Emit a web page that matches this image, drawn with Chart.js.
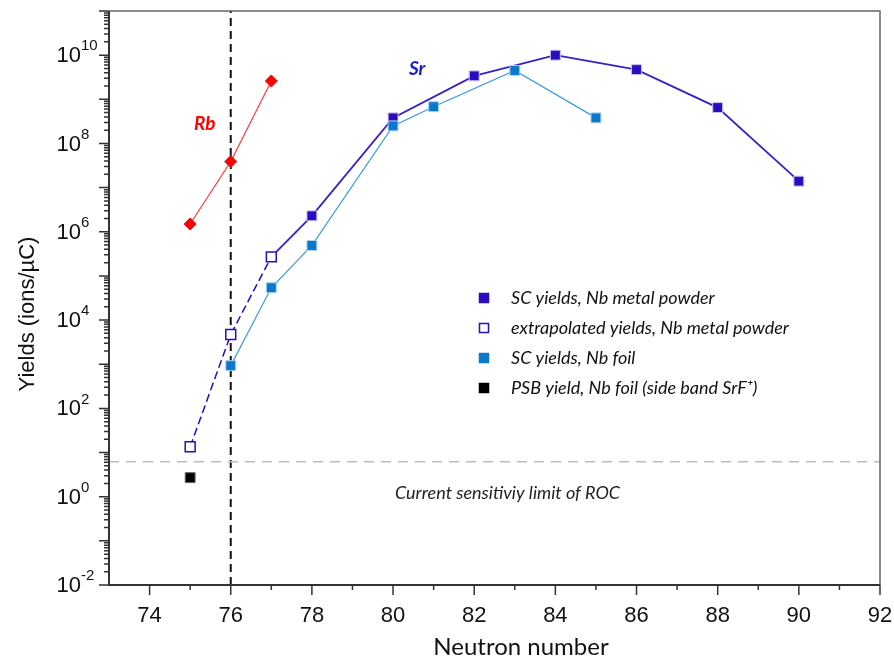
<!DOCTYPE html>
<html lang="en">
<head>
<meta charset="UTF-8">
<title>Sr and Rb yields vs neutron number</title>
<script src="https://cdn.jsdelivr.net/npm/chart.js"></script>
<style>
  body { margin: 0; background: #fff; }
  canvas { display: block; }
</style>
</head>
<body>
<canvas id="chart" width="894" height="659"></canvas>
<script>
  // yields in ions/uC
  const rbN = [75, 76, 77];
  const rbYield = [1.5e6, 3.9e7, 2.6e9];

  const powderN = [78, 80, 82, 84, 86, 88, 90];
  const powderYield = [2.3e6, 3.8e8, 3.4e9, 1.0e10, 4.7e9, 6.5e8, 1.4e7];

  const extrapN = [75, 76, 77];
  const extrapYield = [13.5, 4.7e3, 2.7e5];

  const foilN = [76, 77, 78, 80, 81, 83, 85];
  const foilYield = [930, 5.4e4, 4.9e5, 2.5e8, 6.8e8, 4.5e9, 3.8e8];

  const psbN = [75];
  const psbYield = [2.7];

  const rocLimit = 6.2;      // current sensitivity limit
  const markerN = 76;        // vertical dashed line

  const xTicks = [74, 76, 78, 80, 82, 84, 86, 88, 90, 92];
  const yTickExps = [-2, 0, 2, 4, 6, 8, 10];
  const legendLabels = [
    'SC yields, Nb metal powder',
    'extrapolated yields, Nb metal powder',
    'SC yields, Nb foil',
    'PSB yield, Nb foil (side band SrF\u207A)'
  ];

  const X_MIN = 73, X_MAX = 92, Y_MIN = 1e-2, Y_MAX = 1e11;

  const pts = (xs, ys) => xs.map((x, i) => ({ x: x, y: ys[i] }));

  const DARK = '#2a0bbf';
  const FOIL = '#0b78c9';

  const datasets = [
    {
      label: 'PSB',
      data: pts(psbN, psbYield),
      showLine: false,
      pointStyle: 'rect', pointRadius: 7,
      backgroundColor: '#000', borderColor: '#666', borderWidth: 1,
      order: 1
    },
    {
      label: 'extrapolated',
      data: pts(extrapN, extrapYield),
      showLine: true,
      borderColor: DARK, borderWidth: 1.5, borderDash: [8, 4],
      pointStyle: 'rect', pointRadius: 7,
      pointBackgroundColor: '#fff', pointBorderColor: DARK, pointBorderWidth: 1.5,
      order: 3
    },
    {
      label: 'SC powder',
      // solid line starts from the last extrapolated point
      data: pts([extrapN[extrapN.length - 1]].concat(powderN), [extrapYield[extrapYield.length - 1]].concat(powderYield)),
      showLine: true,
      borderColor: '#3a1fc4', borderWidth: 1.8,
      pointStyle: 'rect',
      pointRadius: ctx => ctx.dataIndex === 0 ? 0 : 7,
      pointBackgroundColor: DARK, pointBorderColor: '#c9c2f0', pointBorderWidth: 1,
      order: 5
    },
    {
      label: 'SC foil',
      data: pts(foilN, foilYield),
      showLine: true,
      borderColor: '#3b9be0', borderWidth: 1.2,
      pointStyle: 'rect', pointRadius: 7,
      pointBackgroundColor: FOIL, pointBorderColor: '#a9d2f2', pointBorderWidth: 1,
      order: 2
    },
    {
      label: 'Rb',
      data: pts(rbN, rbYield),
      showLine: true,
      borderColor: '#ff3a3a', borderWidth: 1.2,
      pointStyle: 'rectRot', pointRadius: 6,
      pointBackgroundColor: '#ff0000', pointBorderColor: '#ff0000', pointBorderWidth: 1,
      order: 2
    },
    {
      label: 'ROC limit',
      data: [{ x: X_MIN, y: rocLimit }, { x: X_MAX, y: rocLimit }],
      showLine: true, pointRadius: 0,
      borderColor: '#bdbdbd', borderWidth: 1.5, borderDash: [10, 7],
      order: 10
    },
    {
      label: 'N=76',
      data: [{ x: markerN, y: Y_MIN }, { x: markerN, y: Y_MAX }],
      showLine: true, pointRadius: 0,
      borderColor: '#111', borderWidth: 2, borderDash: [8, 5],
      order: 10
    }
  ];

  const legendMarks = [
    { fill: DARK, stroke: DARK },
    { fill: '#fff', stroke: DARK },
    { fill: FOIL, stroke: FOIL },
    { fill: '#000', stroke: '#000' }
  ];

  const framePlugin = {
    id: 'frame',
    afterDraw(chart) {
      const ctx = chart.ctx;
      const a = chart.chartArea;
      const xs = chart.scales.x, ys = chart.scales.y;
      ctx.save();

      // top and right frame
      ctx.strokeStyle = '#666';
      ctx.lineWidth = 1.5;
      ctx.beginPath();
      ctx.moveTo(a.left, a.top); ctx.lineTo(a.right, a.top); ctx.lineTo(a.right, a.bottom);
      ctx.stroke();

      // left and bottom axes
      ctx.strokeStyle = '#333';
      ctx.lineWidth = 2;
      ctx.beginPath();
      ctx.moveTo(a.left, a.top); ctx.lineTo(a.left, a.bottom); ctx.lineTo(a.right, a.bottom);
      ctx.stroke();

      // y ticks: major every decade, minor 2..9
      ctx.lineWidth = 1.5;
      ctx.beginPath();
      for (let e = -2; e <= 11; e++) {
        const y = ys.getPixelForValue(Math.pow(10, e));
        ctx.moveTo(a.left - 10, y); ctx.lineTo(a.left, y);
        if (e < 11) {
          for (let k = 2; k <= 9; k++) {
            const ym = ys.getPixelForValue(k * Math.pow(10, e));
            ctx.moveTo(a.left - 5, ym); ctx.lineTo(a.left, ym);
          }
        }
      }
      // x ticks: major even, minor odd
      for (let n = 74; n <= 92; n++) {
        const x = xs.getPixelForValue(n);
        const len = n % 2 === 0 ? 10 : 5;
        ctx.moveTo(x, a.bottom); ctx.lineTo(x, a.bottom + len);
      }
      ctx.stroke();

      // tick labels
      ctx.fillStyle = '#111';
      ctx.textBaseline = 'middle';
      yTickExps.forEach(e => {
        const y = ys.getPixelForValue(Math.pow(10, e));
        ctx.font = '22px "Liberation Sans", Arial, sans-serif';
        ctx.textAlign = 'right';
        ctx.fillText('10', 81, y + 1);
        ctx.font = '15px "Liberation Sans", Arial, sans-serif';
        ctx.textAlign = 'left';
        ctx.fillText(String(e), 81, y - 9);
      });
      ctx.font = '22px "Liberation Sans", Arial, sans-serif';
      ctx.textAlign = 'center';
      xTicks.forEach(n => {
        ctx.fillText(String(n), xs.getPixelForValue(n), 616);
      });

      // axis titles
      ctx.font = '24px Lato, sans-serif';
      ctx.fillText('Neutron number', 521, 647);
      ctx.save();
      ctx.translate(28, 314);
      ctx.rotate(-Math.PI / 2);
      ctx.font = '22px "Liberation Sans", Arial, sans-serif';
      ctx.fillText('Yields (ions/\u00B5C)', 0, 0);
      ctx.restore();

      // legend
      ctx.font = 'italic 18px Lato, sans-serif';
      ctx.textAlign = 'left';
      legendLabels.forEach((txt, i) => {
        const y = 298 + i * 30;
        const m = legendMarks[i];
        ctx.fillStyle = m.fill;
        ctx.fillRect(479, y - 5, 10, 10);
        ctx.strokeStyle = m.stroke;
        ctx.lineWidth = 1.5;
        ctx.strokeRect(479.5, y - 4.5, 9, 9);
        ctx.fillStyle = '#111';
        ctx.fillText(txt, 511, y);
      });

      // annotations
      ctx.font = 'italic 18px Lato, sans-serif';
      ctx.fillStyle = '#222';
      ctx.fillText('Current sensitiviy limit of ROC', 395, 493);
      ctx.font = 'italic bold 19px Lato, sans-serif';
      ctx.fillStyle = '#ff0000';
      ctx.fillText('Rb', 194, 124);
      ctx.fillStyle = '#1a1ad0';
      ctx.fillText('Sr', 409, 69);

      ctx.restore();
    }
  };

  new Chart(document.getElementById('chart'), {
    type: 'scatter',
    data: { datasets: datasets },
    options: {
      responsive: false,
      animation: false,
      layout: { padding: { left: 13, right: 14, top: 11, bottom: 0 } },
      plugins: { legend: { display: false }, tooltip: { enabled: false } },
      scales: {
        x: {
          type: 'linear', min: X_MIN, max: X_MAX,
          grid: { display: false }, border: { display: false },
          ticks: { display: false },
          afterFit: s => { s.height = 74; }
        },
        y: {
          type: 'logarithmic', min: Y_MIN, max: Y_MAX,
          grid: { display: false }, border: { display: false },
          ticks: { display: false },
          afterFit: s => { s.width = 96; }
        }
      }
    },
    plugins: [framePlugin]
  });
</script>
</body>
</html>
